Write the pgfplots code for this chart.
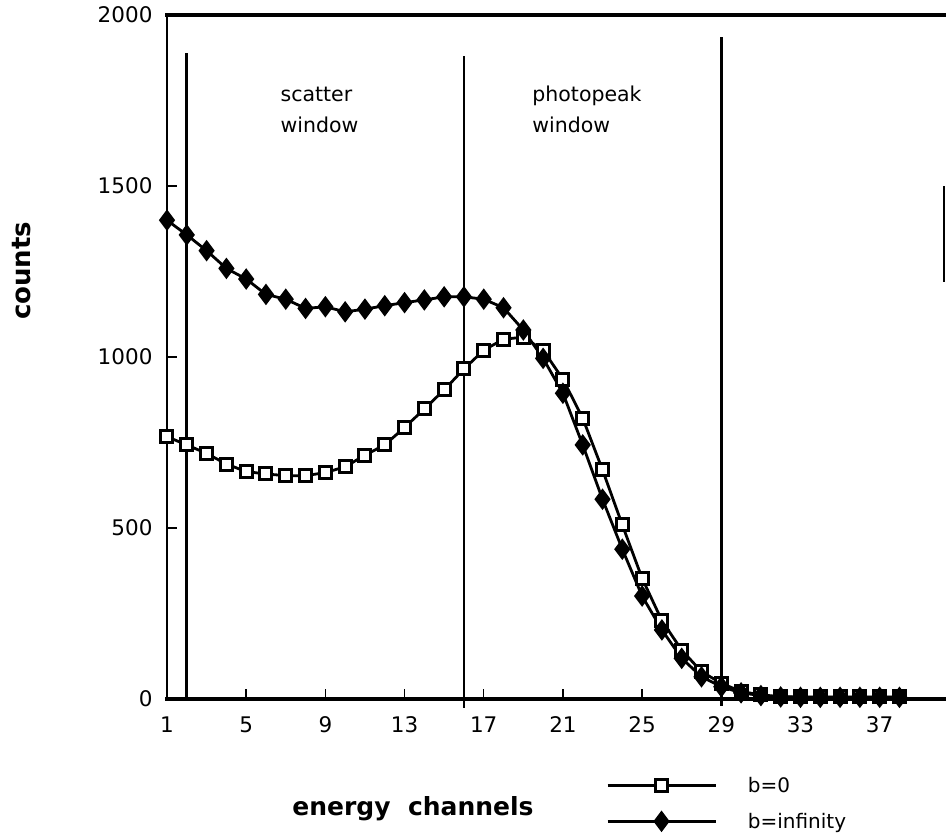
\documentclass[border=0pt]{standalone}
\usepackage{pgfplots}
\pgfplotsset{compat=1.18}
\usepackage{fontspec}
\setmainfont{DejaVu Sans}
\usetikzlibrary{calc}

\pgfplotstableread{
x y
1 767
2 743
3 718
4 687
5 665
6 658
7 653
8 653
9 662
10 679
11 713
12 743
13 794
14 848
15 904
16 965
17 1020
18 1052
19 1058
20 1020
21 935
22 821
23 670
24 509
25 353
26 229
27 143
28 80
29 46
30 22
31 12
32 7
33 6
34 6
35 6
36 6
37 6
38 6
}\bzero

\pgfplotstableread{
x y
1 1400
2 1357
3 1311
4 1259
5 1228
6 1183
7 1169
8 1142
9 1147
10 1132
11 1140
12 1150
13 1159
14 1167
15 1176
16 1176
17 1169
18 1144
19 1079
20 996
21 894
22 743
23 584
24 438
25 301
26 202
27 119
28 65
29 36
30 18
31 10
32 6
33 5
34 5
35 5
36 5
37 5
38 5
}\binf

\begin{document}
\begin{tikzpicture}
\begin{axis}[
  scale only axis,
  width=777pt, height=684pt,
  xmin=1, xmax=40.25, ymin=0, ymax=2000,
  xtick={1,5,...,37}, ytick={0,500,...,2000},
  xtick pos=left, ytick pos=left,
  tick align=inside,
  major tick length=10pt,
  x tick style={line width=1.5pt, black},
  y tick style={line width=2.5pt, black},
  axis line style={draw=none},
  /pgf/number format/assume math mode=true,
  /pgf/number format/1000 sep={},
  tick label style={font=\fontsize{21.5}{25}\selectfont},
  xticklabel style={yshift=-14pt},
  yticklabel style={xshift=-11pt},
  xlabel={energy\ \ channels},
  ylabel={counts},
  xlabel style={font=\bfseries\fontsize{25}{30}\selectfont, at={(axis description cs:0.3166,-0.1696)}, anchor=base},
  ylabel style={font=\bfseries\fontsize{26}{30}\selectfont, at={(axis description cs:-0.1866,0.626)}, anchor=center},
  legend style={draw=none, fill=none, at={(axis description cs:0.561,-0.111)}, anchor=north west,
    font=\fontsize{20}{24}\selectfont, nodes={inner sep=0pt}, row sep=19pt,
    /tikz/every odd column/.append style={column sep=31pt}},
  legend cell align=left,
  legend image code/.code={\draw[mark repeat=2,mark phase=2,#1] plot coordinates {(0pt,0pt)(54pt,0pt)(108pt,0pt)};},
  clip=false,
]
% frame
\draw[line width=2.5pt] (rel axis cs:0,0) -- (rel axis cs:0,1);
\draw[line width=3.5pt] (rel axis cs:-0.002,1) -- (rel axis cs:1.01,1);
\draw[line width=3.5pt] (rel axis cs:-0.002,0) -- (rel axis cs:1.01,0);
\draw[line width=1.2pt] (rel axis cs:1,0.61) -- (rel axis cs:1,0.75);
% window lines
\addplot[black, line width=3pt, forget plot] coordinates {(2,0) (2,1890)};
\addplot[black, line width=1.5pt, forget plot] coordinates {(16,-25) (16,1880)};
\addplot[black, line width=3.5pt, forget plot] coordinates {(29,-20) (29,1935)};
% data
\addplot[black, line width=2.8pt, mark=square*, mark size=6pt, mark options={fill=white, line width=3pt, solid}] table[x=x,y=y] {\bzero};
\addlegendentry{b=0}
\addplot[black, line width=2.8pt, mark=diamond*, mark size=8.5pt, mark options={fill=black, solid}] table[x=x,y=y] {\binf};
\addlegendentry{b=infinity}
% annotations
\node[anchor=base west, font=\fontsize{20.5}{24}\selectfont] at (axis cs:6.56,1746) {scatter};
\node[anchor=base west, font=\fontsize{20.5}{24}\selectfont] at (axis cs:6.56,1655) {window};
\node[anchor=base west, font=\fontsize{20.5}{24}\selectfont] at (axis cs:19.28,1746) {photopeak};
\node[anchor=base west, font=\fontsize{20.5}{24}\selectfont] at (axis cs:19.28,1655) {window};
\end{axis}
\pgfresetboundingbox
\path[use as bounding box] ($(current axis.south west)+(-167pt,-140pt)$) rectangle ($(current axis.north east)+(2pt,15pt)$);
\end{tikzpicture}
\end{document}
